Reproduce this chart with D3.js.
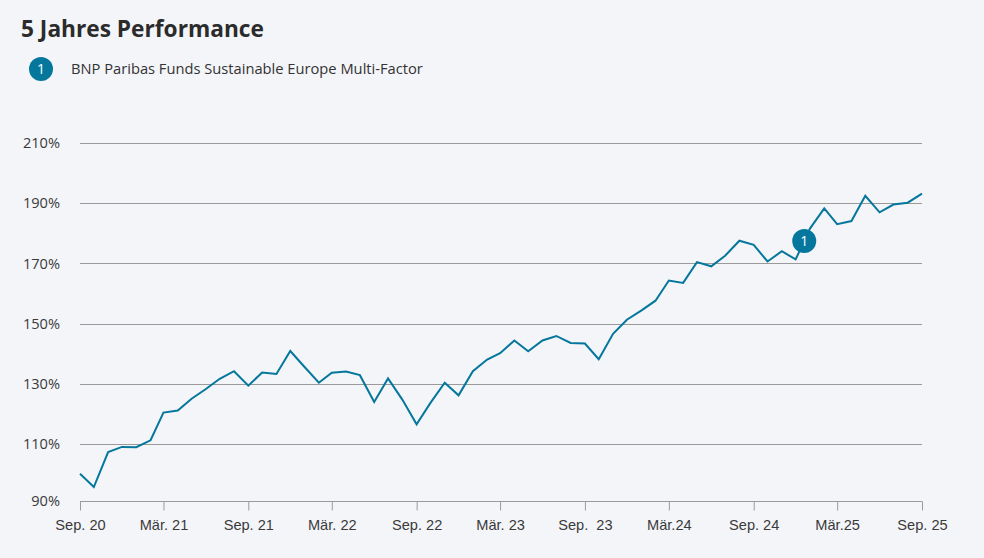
<!DOCTYPE html>
<html>
<head>
<meta charset="utf-8">
<script src="https://cdn.jsdelivr.net/npm/d3@7"></script>
<style>
  html, body { margin: 0; padding: 0; background: #f4f5f9; }
  svg { display: block; font-family: "Open Sans", Lato, sans-serif; }
  .title { font-size: 22.7px; font-weight: 700; fill: #2b2b2b; }
  .legend-text { font-size: 14.7px; fill: #333; }
  .axis text { font-size: 14.6px; fill: #3a3a3a; white-space: pre; }
  .grid line { stroke: #9a9a9a; stroke-width: 1; }
</style>
</head>
<body>
<div id="chart"></div>
<script>
// fund performance, monthly, Sep 2020 = 100%
var seriesName = 'BNP Paribas Funds Sustainable Europe Multi-Factor';
var startMonth = '2020-09';
var performance = [
    100.2, 95.8, 107.4, 109.1, 109.0, 111.3, 120.5, 121.2, 125.1, 128.3,
    131.7, 134.2, 129.4, 133.8, 133.3, 140.9, 135.6, 130.4, 133.7, 134.1,
    132.9, 124.0, 131.8, 124.8, 116.6, 123.7, 130.4, 126.2, 134.2, 138.1,
    140.2, 144.4, 140.8, 144.4, 145.9, 143.6, 143.4, 138.2, 146.6, 151.3,
    154.3, 157.6, 164.3, 163.5, 170.4, 169.0, 172.5, 177.5, 176.1, 170.6,
    174.0, 171.3, 181.5, 188.2, 183.0, 184.0, 192.4, 186.9, 189.5, 190.1,
    193.1
];
var yTicks = [90, 110, 130, 150, 170, 190, 210];
var xTickLabels = ['Sep. 20', 'Mär. 21', 'Sep. 21', 'Mär. 22', 'Sep. 22', 'Mär. 23',
    'Sep.  23', 'Mär.24', 'Sep. 24', 'Mär.25', 'Sep. 25'];
var markerPosition = 51.6; // series marker sits on the line between two months

var width = 984, height = 558;
var plot = {left: 80, right: 922, top: 142.7, bottom: 501};

var parseMonth = d3.timeParse('%Y-%m');
var start = parseMonth(startMonth);
var data = performance.map(function (v, i) {
    return {date: d3.timeMonth.offset(start, i), value: v};
});

var x = d3.scaleTime()
        .domain([start, d3.timeMonth.offset(start, 60)])
        .range([plot.left, plot.right]);

var y = d3.scaleLinear()
        .domain([90, 210])
        .range([504.5, plot.top]);

var svg = d3.select('#chart').append('svg')
        .attr('width', width)
        .attr('height', height);

svg.append('text')
        .attr('class', 'title')
        .attr('x', 21)
        .attr('y', 37)
        .text('5 Jahres Performance');

// legend
var legend = svg.append('g').attr('transform', 'translate(41,69)');
legend.append('circle').attr('r', 12).attr('fill', '#05779c');
legend.append('text')
        .attr('text-anchor', 'middle')
        .attr('dy', '0.36em')
        .attr('fill', '#fff')
        .style('font-size', '14px')
        .text('1');
legend.append('text')
        .attr('class', 'legend-text')
        .attr('x', 30)
        .attr('dy', '0.36em')
        .text(seriesName);

// horizontal grid lines (not at 90%, the x axis sits there)
svg.append('g').attr('class', 'grid')
        .selectAll('line')
        .data(yTicks.filter(function (d) { return d > 90; }))
        .enter().append('line')
        .attr('x1', plot.left)
        .attr('x2', plot.right)
        .attr('y1', function (d) { return Math.round(y(d)) + 0.5; })
        .attr('y2', function (d) { return Math.round(y(d)) + 0.5; });

// y labels
svg.append('g').attr('class', 'axis')
        .selectAll('text')
        .data(yTicks)
        .enter().append('text')
        .attr('x', 60)
        .attr('y', function (d) { return Math.min(y(d), plot.bottom); })
        .attr('dy', '0.36em')
        .attr('text-anchor', 'end')
        .text(function (d) { return d + '%'; });

// x axis
var xTickDates = xTickLabels.map(function (d, i) { return d3.timeMonth.offset(start, i * 6); });
var xAxis = d3.axisBottom(x)
        .tickValues(xTickDates)
        .tickSize(9)
        .tickPadding(9)
        .tickFormat(function (d, i) { return xTickLabels[i]; });

var gx = svg.append('g')
        .attr('class', 'axis')
        .attr('transform', 'translate(0,' + (plot.bottom + 0.5) + ')')
        .call(xAxis);
gx.select('.domain').attr('stroke', '#9a9a9a').attr('d', 'M' + plot.left + ',0H' + plot.right);
gx.selectAll('.tick line').attr('stroke', '#9a9a9a');
gx.selectAll('.tick text').attr('fill', '#3a3a3a').style('font-size', '14.6px');

// performance line
var line = d3.line()
        .x(function (d) { return x(d.date); })
        .y(function (d) { return y(d.value); });

svg.append('path')
        .datum(data)
        .attr('fill', 'none')
        .attr('stroke', '#05779c')
        .attr('stroke-width', 2)
        .attr('stroke-linejoin', 'miter')
        .attr('d', line);

// series marker on the line
var i0 = Math.floor(markerPosition), t = markerPosition - i0;
var mx = x(data[i0].date) + t * (x(data[i0 + 1].date) - x(data[i0].date));
var my = y(data[i0].value + t * (data[i0 + 1].value - data[i0].value));
var marker = svg.append('g').attr('transform', 'translate(' + mx + ',' + my + ')');
marker.append('circle').attr('r', 12).attr('fill', '#05779c');
marker.append('text')
        .attr('text-anchor', 'middle')
        .attr('dy', '0.36em')
        .attr('fill', '#fff')
        .style('font-size', '14px')
        .text('1');
</script>
</body>
</html>
